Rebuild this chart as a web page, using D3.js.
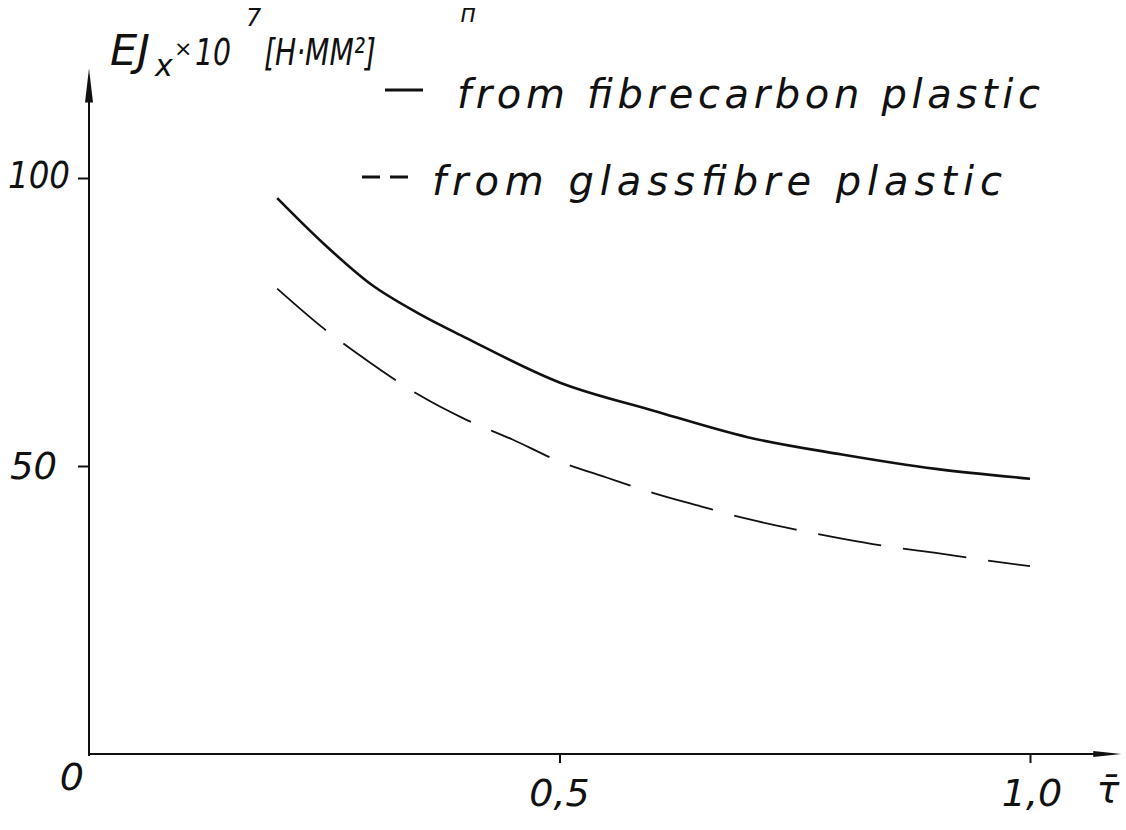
<!DOCTYPE html>
<meta charset="utf-8">
<style>
body { margin: 0; background: #fff; }
svg { display: block; }
.hand { font-family: "DejaVu Sans", sans-serif; font-style: italic; font-weight: 200; fill: #111; }
.axis line { stroke: #111; stroke-width: 2px; }
.axis path { display: none; }
.curve { fill: none; stroke: #111; }
</style>
<body>
<script src="https://d3js.org/d3.v7.min.js"></script>
<script>

// carbon fibre plastic (solid)
var tauCarbon = [0.2, 0.25, 0.3, 0.35, 0.4, 0.5, 0.6, 0.7, 0.8, 0.9, 1.0];
var ejCarbon  = [96.5, 88.5, 81.5, 76.5, 72.3, 64.5, 59.6, 55.0, 52.0, 49.5, 47.8];

// glass fibre plastic (dashed)
var tauGlass = [0.2, 0.25, 0.3, 0.35, 0.4, 0.45, 0.5, 0.55, 0.6, 0.65, 0.7, 0.75, 0.8, 0.85, 0.9, 0.95, 1.0];
var ejGlass  = [80.8, 73.8, 67.8, 62.4, 58.1, 54.6, 50.8, 48.0, 45.3, 43.0, 40.8, 39.0, 37.4, 36.0, 34.9, 33.7, 32.6];

var xTicks = [0.5, 1.0];
var xTickLabels = ["0,5", "1,0"];
var yTicks = [50, 100];
var yTickLabels = ["50", "100"];
var legendLabels = ["from fibrecarbon plastic", "from glassfibre plastic"];

var W = 1126, H = 830;

var x = d3.scaleLinear().domain([0, 1]).range([89, 1030]);
var y = d3.scaleLinear().domain([0, 100]).range([754, 178]);

var svg = d3.select("body").append("svg")
    .attr("width", W)
    .attr("height", H);

// axes lines with arrows
var x0 = x(0), y0 = y(0);
var xEnd = x(1.097), yEnd = y(119);

svg.append("line")
    .attr("x1", x0).attr("y1", y0 + 2)
    .attr("x2", x0).attr("y2", yEnd + 10)
    .attr("stroke", "#111").attr("stroke-width", 2);
svg.append("path")
    .attr("d", "M" + x0 + "," + yEnd + " L" + (x0 - 4) + "," + (yEnd + 34) + " L" + (x0 + 4) + "," + (yEnd + 34) + "Z")
    .attr("fill", "#111");

svg.append("line")
    .attr("x1", x0).attr("y1", y0)
    .attr("x2", xEnd - 10).attr("y2", y0)
    .attr("stroke", "#111").attr("stroke-width", 2);
svg.append("path")
    .attr("d", "M" + xEnd + "," + y0 + " L" + (xEnd - 28) + "," + (y0 - 3) + " L" + (xEnd - 28) + "," + (y0 + 3) + "Z")
    .attr("fill", "#111");

// ticks
svg.append("g")
    .attr("class", "axis")
    .attr("transform", "translate(" + x0 + ",0)")
    .call(d3.axisLeft(y).tickValues(yTicks).tickSize(11).tickFormat(""));

svg.append("g")
    .attr("class", "axis")
    .attr("transform", "translate(0," + y0 + ")")
    .call(d3.axisBottom(x).tickValues(xTicks).tickSize(9).tickFormat(""));

// tick labels
svg.selectAll(".ylab")
    .data(yTicks)
    .enter().append("text")
    .attr("class", "hand")
    .attr("x", function(d) { return d === 100 ? 8 : 10; })
    .attr("y", function(d) { return y(d) + (d === 100 ? 10 : 13); })
    .attr("font-size", 38)
    .attr("textLength", function(d) { return d === 100 ? 62 : 47; })
    .attr("lengthAdjust", "spacingAndGlyphs")
    .text(function(d, i) { return yTickLabels[i]; });

svg.selectAll(".xlab")
    .data(xTicks)
    .enter().append("text")
    .attr("class", "hand")
    .attr("x", function(d) { return x(d) + (d === 1 ? 2 : 0); })
    .attr("y", y0 + 52)
    .attr("text-anchor", "middle")
    .attr("font-size", 38)
    .text(function(d, i) { return xTickLabels[i]; });

svg.append("text")
    .attr("class", "hand")
    .attr("x", 84)
    .attr("y", y0 + 36)
    .attr("text-anchor", "end")
    .attr("font-size", 38)
    .text("0");

svg.append("text")
    .attr("class", "hand")
    .attr("x", 1108)
    .attr("y", y0 + 48)
    .attr("text-anchor", "middle")
    .attr("font-size", 38)
    .text("τ̄");

// y axis title
function titlePart(tx, ty, size, str, len) {
  var t = svg.append("text")
      .attr("class", "hand")
      .attr("x", tx)
      .attr("y", ty)
      .attr("font-size", size)
      .text(str);
  if (len) t.attr("textLength", len).attr("lengthAdjust", "spacingAndGlyphs");
}
titlePart(110, 65, 42, "EJ", 40);
titlePart(155, 76, 30, "x");
titlePart(174, 56, 22, "×");
titlePart(195, 65, 38, "10", 36);
titlePart(246, 26, 24, "7");
titlePart(264, 65, 38, "[Н·ММ²]", 112);

// page mark at top
svg.append("text")
    .attr("class", "hand")
    .attr("x", 468)
    .attr("y", 22)
    .attr("text-anchor", "middle")
    .attr("font-size", 24)
    .text("п");

// curves
var line = d3.line()
    .x(function(d) { return x(d[0]); })
    .y(function(d) { return y(d[1]); })
    .curve(d3.curveMonotoneX);

svg.append("path")
    .attr("class", "curve")
    .attr("stroke-width", 2.6)
    .attr("d", line(d3.zip(tauCarbon, ejCarbon)));

svg.append("path")
    .attr("class", "curve")
    .attr("stroke-width", 1.8)
    .attr("stroke-dasharray", "64 22")
    .attr("d", line(d3.zip(tauGlass, ejGlass)));

// legend
var legend = [
  {lab: legendLabels[0], x1: 385, x2: 423, dash: null, tx: 457, ty: 108, len: 583},
  {lab: legendLabels[1], x1: 362, x2: 410, dash: "18 10", tx: 432, ty: 195, len: 570}
];

var lg = svg.selectAll(".leg")
    .data(legend)
    .enter().append("g");

lg.append("line")
    .attr("x1", function(d) { return d.x1; })
    .attr("x2", function(d) { return d.x2; })
    .attr("y1", function(d) { return d.ty - 18; })
    .attr("y2", function(d) { return d.ty - 18; })
    .attr("stroke", "#111")
    .attr("stroke-width", 3)
    .attr("stroke-dasharray", function(d) { return d.dash; });

lg.append("text")
    .attr("class", "hand")
    .attr("x", function(d) { return d.tx; })
    .attr("y", function(d) { return d.ty; })
    .attr("font-size", 40)
    .attr("textLength", function(d) { return d.len; })
    .attr("lengthAdjust", "spacing")
    .text(function(d) { return d.lab; });

</script>
</body>
